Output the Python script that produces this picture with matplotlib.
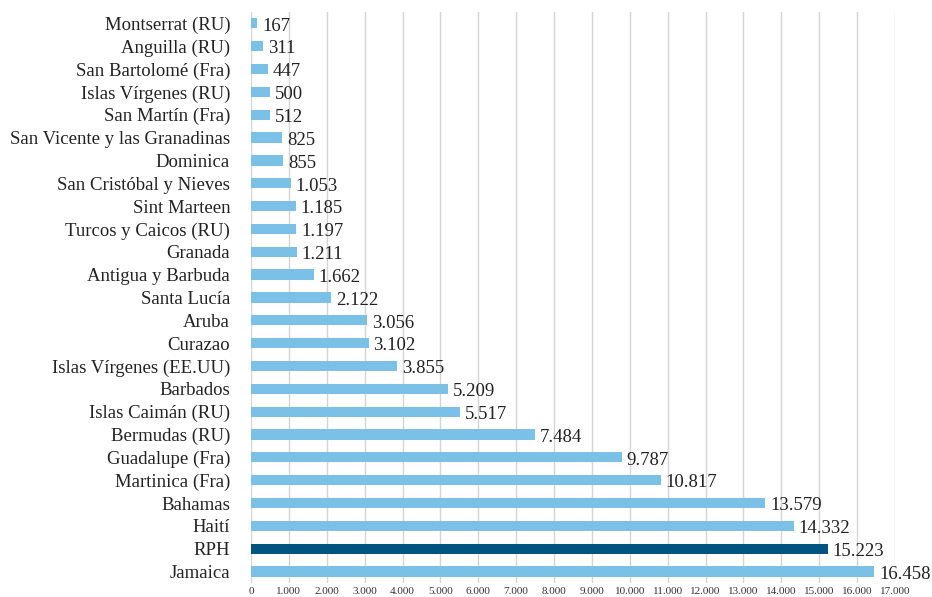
import matplotlib.pyplot as plt
import numpy as np

countries = [
    "Montserrat (RU)", "Anguilla (RU)", "San Bartolomé (Fra)", "Islas Vírgenes (RU)",
    "San Martín (Fra)", "San Vicente y las Granadinas", "Dominica",
    "San Cristóbal y Nieves", "Sint Marteen", "Turcos y Caicos (RU)", "Granada",
    "Antigua y Barbuda", "Santa Lucía", "Aruba", "Curazao",
    "Islas Vírgenes (EE.UU)", "Barbados", "Islas Caimán (RU)", "Bermudas (RU)",
    "Guadalupe (Fra)", "Martinica (Fra)", "Bahamas", "Haití", "RPH", "Jamaica",
]
values = [
    167, 311, 447, 500, 512, 825, 855, 1053, 1185, 1197, 1211, 1662, 2122,
    3056, 3102, 3855, 5209, 5517, 7484, 9787, 10817, 13579, 14332, 15223, 16458,
]
highlight = "RPH"
xticks = list(range(0, 17001, 1000))


def fmt(v):
    return f"{v:,}".replace(",", ".")


plt.rcParams["font.family"] = ["Liberation Serif", "DejaVu Serif"]

fig = plt.figure(figsize=(9.32, 5.97), dpi=100)
ax = fig.add_axes([0.2693, 0.0235, 0.691, 0.9565])

y = np.arange(len(countries))
colors = ["#005580" if c == highlight else "#7bc0e6" for c in countries]
ax.barh(y, values, height=0.45, color=colors, zorder=2)

for yi, v in zip(y, values):
    ax.annotate(fmt(v), (v, yi), xytext=(3.5, -2), textcoords="offset points",
                ha="left", va="center", fontsize=13.5, color="#222222",
                annotation_clip=False)

ax.set_ylim(len(countries) - 0.5, -0.5)
ax.set_xlim(0, 17000)
ax.set_yticks(y)
ax.set_yticklabels(countries, fontsize=13.5, color="#222222")
ax.set_xticks(xticks)
ax.set_xticklabels([fmt(t) for t in xticks], fontsize=8, color="#333333")
ax.tick_params(axis="y", length=0, pad=15)
ax.tick_params(axis="x", length=0, pad=3)
ax.grid(axis="x", color="#d4d4d4", linewidth=1, zorder=0)
for s in ax.spines.values():
    s.set_visible(False)

fig.savefig("out.png", dpi=100)
